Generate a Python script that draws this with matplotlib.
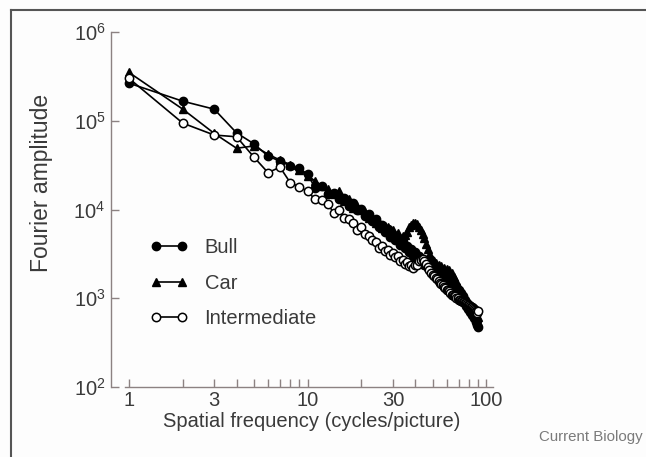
import math
import matplotlib
matplotlib.use("Agg")
import matplotlib.pyplot as plt
import matplotlib.ticker as ticker
from matplotlib.lines import Line2D

freq = list(range(1, 91))

bull = [265000, 166000, 135000, 73000, 55000, 40000, 35000, 31000, 29000, 25000,
        17500, 18500, 15000, 15500, 13000, 13500, 11000, 11800, 9800, 10200,
        8500, 8900, 7400, 7900, 6300, 6700, 5600, 6000, 4900, 5200,
        4500, 4800, 4000, 4300, 3700, 3900, 3300, 3600, 3000, 3300,
        2800, 3000, 2600, 2800, 2400, 2600, 2200, 2400, 2050, 2250,
        1900, 2100, 1850, 2000, 1750, 1900, 1700, 1850, 1650, 1800,
        1600, 1700, 1500, 1600, 1400, 1450, 1300, 1350, 1200, 1250,
        1100, 1150, 1000, 1050, 900, 950, 820, 880, 760, 800,
        700, 740, 650, 690, 600, 640, 540, 580, 500, 470]

car = [350000, 135000, 72000, 49000, 52000, 42000, 36000, 32000, 28000, 24000,
       21000, 18500, 17000, 15000, 16000, 12500, 13000, 10500, 11000, 9800,
       9300, 8000, 8300, 7000, 7200, 6200, 6500, 6300, 5700, 5900,
       5200, 5400, 4800, 5000, 5100, 5600, 6300, 6700, 7100, 7000,
       6800, 6300, 5900, 5300, 4800, 4100, 3600, 3100, 2900, 2700,
       2600, 2500, 2300, 2400, 2200, 2300, 2100, 2200, 2050, 2150,
       2000, 2100, 1900, 1950, 1700, 1750, 1500, 1550, 1300, 1350,
       1150, 1200, 1050, 1100, 950, 1000, 880, 920, 820, 850,
       760, 790, 720, 740, 680, 700, 640, 660, 600, 620]

intermediate = [300000, 94000, 69000, 66000, 39000, 26000, 30000, 20000, 18000, 16000,
                13000, 12800, 11500, 9100, 9800, 8000, 7800, 7000, 5800, 6300,
                5300, 5000, 4500, 4300, 3700, 3900, 3400, 3500, 3100, 3200,
                2900, 3000, 2600, 2700, 2450, 2550, 2300, 2400, 2200, 2350,
                2400, 2600, 2700, 2800, 2600, 2450, 2250, 2100, 1950, 1850,
                1800, 1700, 1650, 1550, 1500, 1450, 1400, 1350, 1300, 1250,
                1250, 1200, 1150, 1100, 1100, 1050, 1050, 1000, 1000, 960,
                960, 930, 930, 900, 900, 880, 880, 860, 850, 830,
                820, 800, 790, 770, 760, 740, 720, 700, 690, 720]

x_ticks = [1, 3, 10, 30, 100]
x_minor = [2, 4, 5, 6, 7, 8, 9, 20, 40, 50, 60, 70, 80, 90]
y_ticks = [1e2, 1e3, 1e4, 1e5, 1e6]

TEXT = "#3a3a3a"
AXIS = "#8c8282"

plt.rcParams["font.family"] = ["Liberation Sans", "DejaVu Sans"]
plt.rcParams["mathtext.default"] = "regular"

fig = plt.figure(figsize=(6.46, 4.57), dpi=100)
fig.patch.set_facecolor("#fdfdfd")
ax = fig.add_axes([111 / 646, 1 - 387 / 457, (493 - 111) / 646, (387 - 32) / 457])
ax.set_facecolor("none")

ms = 6
ax.plot(freq, car, "^-", color="black", markersize=ms, linewidth=1.2, label="Car", zorder=3)
ax.plot(freq, bull, "o-", color="black", markersize=ms, linewidth=1.2, label="Bull", zorder=4)
ax.plot(freq, intermediate, "o-", color="black", markerfacecolor="white",
        markeredgewidth=1.1, markersize=ms, linewidth=1.2, label="Intermediate", zorder=5)

ax.set_xscale("log")
ax.set_yscale("log")
ax.set_xlim(0.793, 109)
ax.set_ylim(1e2, 1e6)

ax.spines["top"].set_visible(False)
ax.spines["right"].set_visible(False)
ax.spines["bottom"].set_bounds(0.95, 109)
for s in ("left", "bottom"):
    ax.spines[s].set_color(AXIS)
    ax.spines[s].set_linewidth(1.0)

ax.xaxis.set_major_locator(ticker.FixedLocator(x_ticks))
ax.xaxis.set_major_formatter(ticker.FuncFormatter(lambda v, p: f"{int(v)}"))
ax.xaxis.set_minor_locator(ticker.FixedLocator(x_minor))
ax.xaxis.set_minor_formatter(ticker.NullFormatter())
ax.yaxis.set_major_locator(ticker.FixedLocator(y_ticks))
ax.yaxis.set_major_formatter(
    ticker.FuncFormatter(lambda v, p: f"$10^{{{int(round(math.log10(v)))}}}$"))
ax.yaxis.set_minor_locator(ticker.NullLocator())

ax.tick_params(axis="both", which="both", direction="in", length=6, width=1.0,
               color=AXIS, labelcolor=TEXT, labelsize=14.5)
ax.tick_params(axis="y", pad=4)
ax.tick_params(axis="x", pad=3)

ax.set_xlabel("Spatial frequency (cycles/picture)", fontsize=14.5, color=TEXT)
ax.xaxis.set_label_coords((312 - 111) / 382, (387 - 412) / 355)
ax.set_ylabel("Fourier amplitude", fontsize=16.5, color=TEXT)
ax.yaxis.set_label_coords((53 - 111) / 382, (387 - 183) / 355)

handles, labels = ax.get_legend_handles_labels()
order = [1, 0, 2]
leg = ax.legend([handles[i] for i in order], [labels[i] for i in order],
                loc="upper left", bbox_to_anchor=(0.055, 0.47), frameon=False,
                numpoints=2, handlelength=1.9, handletextpad=0.8, labelspacing=0.82,
                fontsize=14.5)
for t in leg.get_texts():
    t.set_color(TEXT)

fig.text(0.995, 1 - 437 / 457, "Current Biology", ha="right", va="center",
         fontsize=10.8, color="#7a7a7a")

fig.add_artist(Line2D([10.5 / 646, 1], [1 - 9.5 / 457, 1 - 9.5 / 457],
                      transform=fig.transFigure, color="#555555", linewidth=1.5))
fig.add_artist(Line2D([10.5 / 646, 10.5 / 646], [0, 1 - 9.5 / 457],
                      transform=fig.transFigure, color="#555555", linewidth=1.5))

fig.savefig("out.png", dpi=100, facecolor=fig.get_facecolor())
